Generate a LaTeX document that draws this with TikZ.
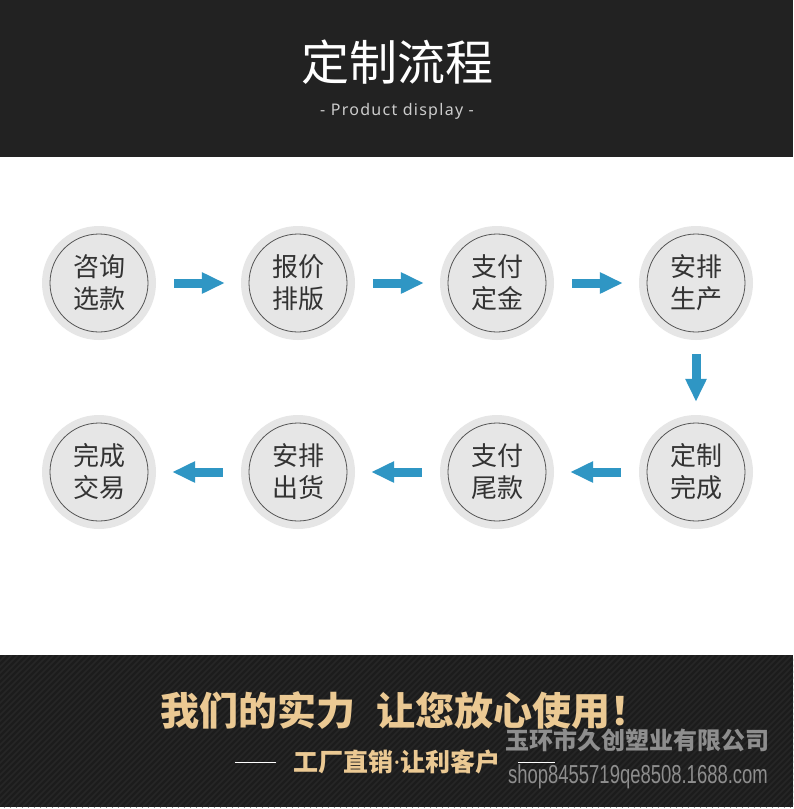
\documentclass[tikz,border=0pt]{standalone}
\usepackage{fontspec}
\setmainfont{Noto Sans}
\newfontfamily\cjk{Noto Sans CJK SC}
\newfontfamily\urlfont{Liberation Sans}
\usepackage{xcolor}
\usepackage{tikz}
\usetikzlibrary{positioning, arrows.meta, calc}

\definecolor{bandgray}{HTML}{222222}
\definecolor{banddark}{HTML}{1C1C1C}
\definecolor{stripegray}{HTML}{262626}
\definecolor{ringfill}{HTML}{E6E6E6}
\definecolor{ringline}{HTML}{555555}
\definecolor{textgray}{HTML}{333333}
\definecolor{flowblue}{HTML}{2F96C4}
\definecolor{gold}{HTML}{EBC993}
\definecolor{markgray}{HTML}{8E8E8E}

\begin{document}
\begin{tikzpicture}[x=1pt, y=-1pt,
    stepnode/.style={circle, fill=ringfill, minimum size=114pt, inner sep=0pt,
      align=center, text=textgray, font=\cjk\fontsize{26}{32}\selectfont,
      path picture={\draw[ringline, line width=0.8pt] (path picture bounding box.center) circle (49pt);}},
    flow/.style={-{Triangle[width=20pt,length=23pt]}, line width=9pt, draw=flowblue,
      shorten <=18pt, shorten >=16pt}]
  \useasboundingbox (0,0) rectangle (793,809);
  \fill[white] (0,0) rectangle (793,809);

  % header
  \fill[bandgray] (0,0) rectangle (793,157);
  \node[text=white, font=\cjk\fontsize{48}{48}\selectfont] (title) at (397,62) {定制流程};
  \node[text=white!80!black, font=\fontsize{16}{16}\selectfont\addfontfeatures{LetterSpace=8}] (subtitle) at (397,111) {- Product display -};

  % steps
  \foreach \i/\val in {0/咨询\\选款, 1/报价\\排版, 2/支付\\定金, 3/安排\\生产} {
    \pgfmathtruncatemacro\n{\i+1}
    \node[stepnode] (c\n) at (99+199*\i,283) {\val};
  }
  \foreach \i/\val in {0/定制\\完成, 1/支付\\尾款, 2/安排\\出货, 3/完成\\交易} {
    \pgfmathtruncatemacro\n{\i+5}
    \node[stepnode] (c\n) at (696-199*\i,472) {\val};
  }
  \foreach \a/\b in {1/2, 2/3, 3/4, 5/6, 6/7, 7/8}
    \draw[flow] (c\a) -- (c\b);
  \draw[flow, shorten <=14pt, shorten >=13pt] (c4) -- (c5);

  % footer
  \fill[banddark] (0,655) rectangle (793,807);
  \begin{scope}
    \clip (0,655) rectangle (793,807);
    \foreach \k in {0,6,...,960}
      \draw[stripegray, line width=1.5pt] (\k-152,807) -- (\k,655);
  \end{scope}
  \node[text=gold, font=\cjk\bfseries\fontsize{39}{39}\selectfont] (slogan) at (405,710) {我们的实力\hspace{12pt} 让您放心使用！};
  \node[text=gold, font=\cjk\bfseries\fontsize{25}{25}\selectfont] (motto) at (397,762) {工厂直销{\fontspec{Noto Sans}\bfseries·}让利客户};
  \draw[white, line width=1pt] ($(motto.west)+(-14,0)$) -- ++(-41,0);
  \draw[white, line width=1pt] ($(motto.east)+(14,0)$) -- ++(37,0);
  \node[text=markgray, font=\cjk\bfseries\fontsize{24}{24}\selectfont] (company) at (637,740) {玉环市久创塑业有限公司};
  \node[text=markgray, font=\urlfont\fontsize{26}{26}\selectfont] (shop) at (638,777) {\scalebox{0.71}[1]{shop8455719qe8508.1688.com}};
\end{tikzpicture}
\end{document}
